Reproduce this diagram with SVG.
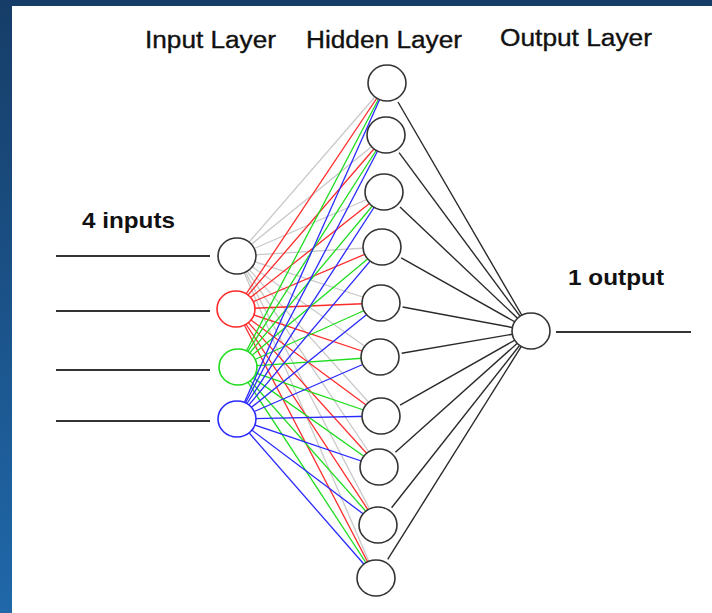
<svg xmlns="http://www.w3.org/2000/svg" width="712" height="613" viewBox="0 0 712 613">
<defs>
<linearGradient id="bg" x1="0" y1="0" x2="0" y2="1">
<stop offset="0" stop-color="#163d68"/>
<stop offset="1" stop-color="#2068aa"/>
</linearGradient>
<style>
.title{font-family:"Liberation Sans",Arial,sans-serif;font-size:23px;fill:#111;stroke:#111;stroke-width:0.35}
.lbl{font-family:"Liberation Sans",Arial,sans-serif;font-size:22px;font-weight:bold;fill:#111}
.node{fill:#fff;stroke:#333;stroke-width:1.6}
.w{stroke-width:1.3;fill:none}
.g{stroke:#c9c9c9}
.r{stroke:#ff2a2a}
.gr{stroke:#1fdc1f}
.b{stroke:#2a2aff}
.k{stroke:#2a2a2a;stroke-width:1.4}
.io{stroke:#333;stroke-width:2}
</style>
</defs>
<rect width="712" height="613" fill="url(#bg)"/>
<rect x="12" y="6" width="700" height="607" fill="#fff"/>

<g id="labels">
<text class="title" x="145" y="48" textLength="131" lengthAdjust="spacingAndGlyphs">Input Layer</text>
<text class="title" x="306" y="48" textLength="156" lengthAdjust="spacingAndGlyphs">Hidden Layer</text>
<text class="title" x="500" y="46" textLength="152" lengthAdjust="spacingAndGlyphs">Output Layer</text>
<text class="lbl" x="82" y="228" textLength="93" lengthAdjust="spacingAndGlyphs">4 inputs</text>
<text class="lbl" x="568" y="285" textLength="96" lengthAdjust="spacingAndGlyphs">1 output</text>
</g>

<g id="connectors">
<g class="w g">
<line x1="237" y1="256" x2="387" y2="83"/><line x1="237" y1="256" x2="386" y2="135"/><line x1="237" y1="256" x2="384" y2="192"/><line x1="237" y1="256" x2="382" y2="247"/><line x1="237" y1="256" x2="381" y2="303"/><line x1="237" y1="256" x2="380" y2="357"/><line x1="237" y1="256" x2="381" y2="416"/><line x1="237" y1="256" x2="379" y2="467"/><line x1="237" y1="256" x2="378" y2="525"/><line x1="237" y1="256" x2="376" y2="578"/>
</g>
<g class="w r">
<line x1="236" y1="309" x2="387" y2="83"/><line x1="236" y1="309" x2="386" y2="135"/><line x1="236" y1="309" x2="384" y2="192"/><line x1="236" y1="309" x2="382" y2="247"/><line x1="236" y1="309" x2="381" y2="303"/><line x1="236" y1="309" x2="380" y2="357"/><line x1="236" y1="309" x2="381" y2="416"/><line x1="236" y1="309" x2="379" y2="467"/><line x1="236" y1="309" x2="378" y2="525"/><line x1="236" y1="309" x2="376" y2="578"/>
</g>
<g class="w gr">
<line x1="238" y1="367" x2="387" y2="83"/><line x1="238" y1="367" x2="386" y2="135"/><line x1="238" y1="367" x2="384" y2="192"/><line x1="238" y1="367" x2="382" y2="247"/><line x1="238" y1="367" x2="381" y2="303"/><line x1="238" y1="367" x2="380" y2="357"/><line x1="238" y1="367" x2="381" y2="416"/><line x1="238" y1="367" x2="379" y2="467"/><line x1="238" y1="367" x2="378" y2="525"/><line x1="238" y1="367" x2="376" y2="578"/>
</g>
<g class="w b">
<line x1="237" y1="419" x2="387" y2="83"/><line x1="237" y1="419" x2="386" y2="135"/><line x1="237" y1="419" x2="384" y2="192"/><line x1="237" y1="419" x2="382" y2="247"/><line x1="237" y1="419" x2="381" y2="303"/><line x1="237" y1="419" x2="380" y2="357"/><line x1="237" y1="419" x2="381" y2="416"/><line x1="237" y1="419" x2="379" y2="467"/><line x1="237" y1="419" x2="378" y2="525"/><line x1="237" y1="419" x2="376" y2="578"/>
</g>
<g class="w k">
<line x1="398.0" y1="102.0" x2="531" y2="331"/><line x1="399.1" y1="152.7" x2="531" y2="331"/><line x1="400.0" y1="207.1" x2="531" y2="331"/><line x1="401.2" y1="257.8" x2="531" y2="331"/><line x1="402.6" y1="307.0" x2="531" y2="331"/><line x1="401.7" y1="353.3" x2="531" y2="331"/><line x1="400.1" y1="405.2" x2="531" y2="331"/><line x1="395.4" y1="452.3" x2="531" y2="331"/><line x1="391.6" y1="507.7" x2="531" y2="331"/><line x1="387.7" y1="559.4" x2="531" y2="331"/>
</g>
<g class="io">
<line x1="56" y1="256" x2="210" y2="256"/>
<line x1="56" y1="311" x2="210" y2="311"/>
<line x1="56" y1="370" x2="210" y2="370"/>
<line x1="56" y1="421" x2="210" y2="421"/>
<line x1="556" y1="332" x2="691" y2="332"/>
</g>
</g>

<g id="in1"><ellipse class="node" cx="237" cy="256" rx="19" ry="18"/></g>
<g id="in2"><ellipse class="node" cx="236" cy="309" rx="19" ry="18" style="stroke:#ff2a2a"/></g>
<g id="in3"><ellipse class="node" cx="238" cy="367" rx="19" ry="18" style="stroke:#1fdc1f"/></g>
<g id="in4"><ellipse class="node" cx="237" cy="419" rx="19" ry="18" style="stroke:#2a2aff"/></g>

<g id="h1"><ellipse class="node" cx="387" cy="83" rx="19" ry="18"/></g>
<g id="h2"><ellipse class="node" cx="386" cy="135" rx="19" ry="18"/></g>
<g id="h3"><ellipse class="node" cx="384" cy="192" rx="19" ry="18"/></g>
<g id="h4"><ellipse class="node" cx="382" cy="247" rx="19" ry="18"/></g>
<g id="h5"><ellipse class="node" cx="381" cy="303" rx="19" ry="18"/></g>
<g id="h6"><ellipse class="node" cx="380" cy="357" rx="19" ry="18"/></g>
<g id="h7"><ellipse class="node" cx="381" cy="416" rx="19" ry="18"/></g>
<g id="h8"><ellipse class="node" cx="379" cy="467" rx="19" ry="18"/></g>
<g id="h9"><ellipse class="node" cx="378" cy="525" rx="19" ry="18"/></g>
<g id="h10"><ellipse class="node" cx="376" cy="578" rx="19" ry="18"/></g>

<g id="out"><ellipse class="node" cx="531" cy="331" rx="19" ry="18"/></g>
</svg>
